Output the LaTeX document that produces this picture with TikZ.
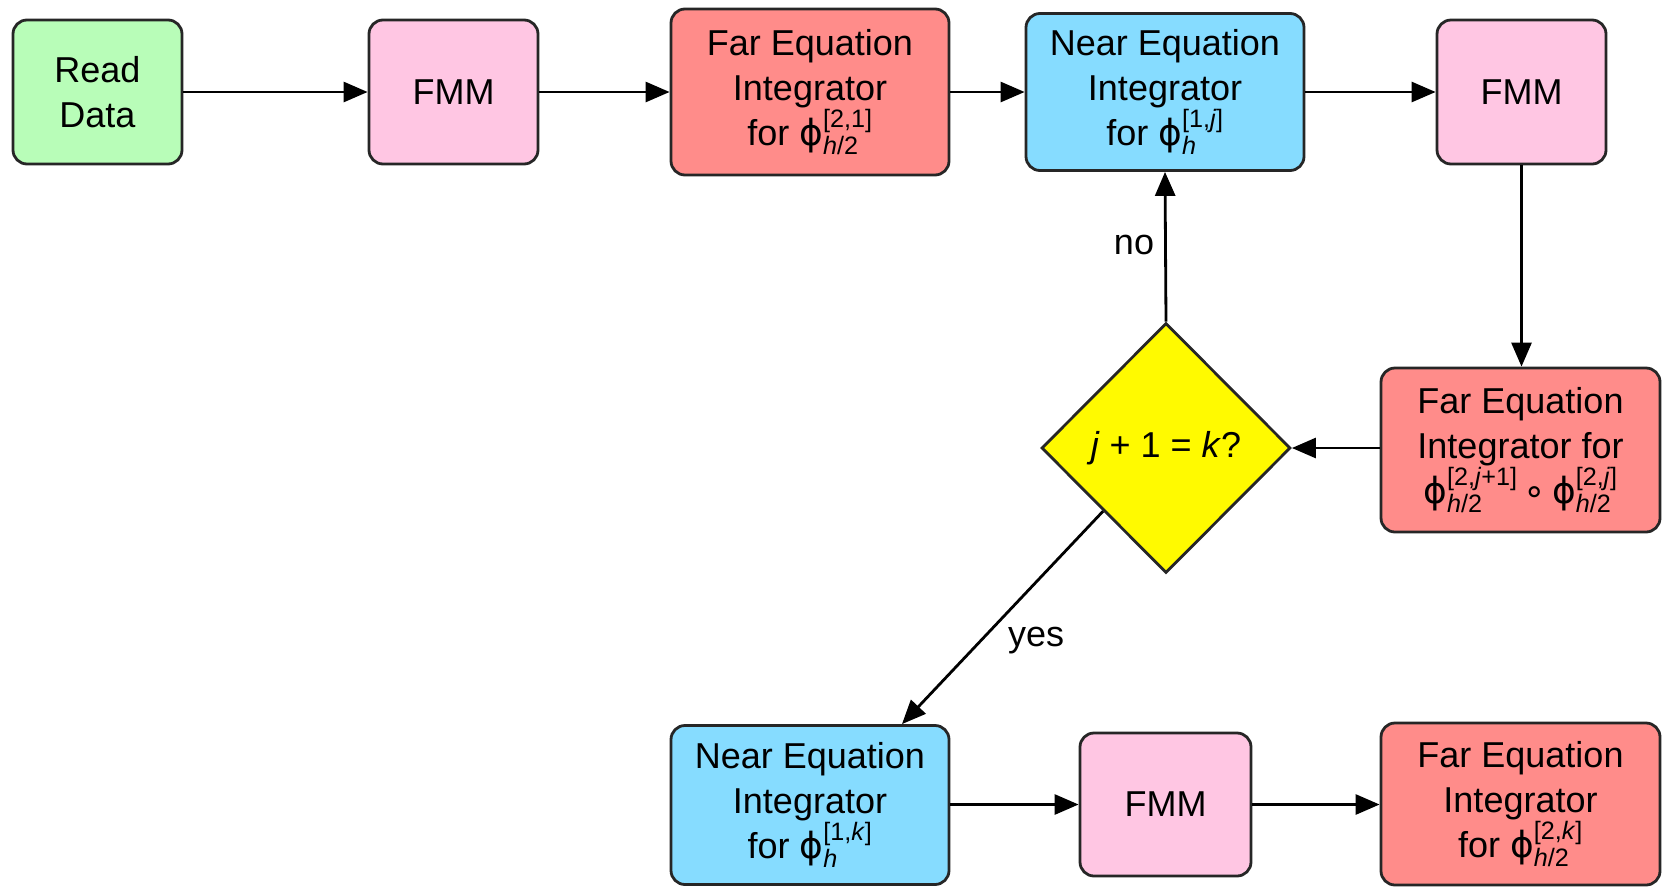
\documentclass[tikz,border=0pt]{standalone}
\usepackage{fontspec}
\setmainfont{Liberation Sans}
\newfontfamily\djv{DejaVu Sans}
\usepackage{amsmath}
\usetikzlibrary{shapes.geometric,arrows.meta,calc}
\definecolor{cgreen}{HTML}{B8FDB8}
\definecolor{cpink}{HTML}{FFC6E3}
\definecolor{cred}{HTML}{FF8C8A}
\definecolor{cblue}{HTML}{86DCFF}
\definecolor{cyellow}{HTML}{FFFA00}
\newcommand{\phiss}[2]{\(\text{\djv ϕ}^{\text{#1}}_{\text{#2}}\)}
\begin{document}
\begin{tikzpicture}[x=1pt,y=-1pt,
  box/.style={draw=black!85, line width=2.8pt, rounded corners=14pt, align=center,
    inner sep=0pt, font=\fontsize{36}{45}\selectfont},
  smallbox/.style={box, minimum width=169pt, minimum height=144pt},
  widebox/.style={box, minimum width=278pt, minimum height=160pt},
  arr/.style={-{Triangle[length=24pt,width=20pt]}, line width=2.8pt},
  lab/.style={font=\fontsize{36}{44}\selectfont, inner sep=0pt}]
\useasboundingbox (0,0) rectangle (1662,887);
\node[smallbox, fill=cgreen] (read) at (97.5,92) {Read\\Data};
\node[smallbox, fill=cpink] (fmm1) at (453.5,92) {FMM};
\node[widebox, fill=cred, minimum height=166pt] (far1) at (810,92) {Far Equation\\Integrator\\for \phiss{[2,1]}{\textit{h}/2}};
\node[widebox, fill=cblue, minimum height=157pt] (near1) at (1165,92) {Near Equation\\Integrator\\for \phiss{[1,\textit{j}]}{\textit{h}}};
\node[smallbox, fill=cpink] (fmm2) at (1521.5,92) {FMM};
\node[widebox, fill=cred, minimum width=279pt, minimum height=164pt] (far2) at (1520.5,450) {Far Equation\\Integrator for\\\phiss{[2,\textit{j}+1]}{\textit{h}/2}\,{\djv ∘}\,\phiss{[2,\textit{j}]}{\textit{h}/2}};
\node[diamond, draw=black!85, line width=2.8pt, fill=cyellow, minimum width=249pt, minimum height=250pt, inner sep=0pt, font=\fontsize{36}{44}\selectfont] (dec) at (1166,448) {\textit{j} + 1 = \textit{k}?};
\node[widebox, fill=cblue, minimum height=159pt] (near2) at (810,805) {Near Equation\\Integrator\\for \phiss{[1,\textit{k}]}{\textit{h}}};
\node[smallbox, fill=cpink, minimum width=171pt, minimum height=143pt] (fmm3) at (1165.5,804.5) {FMM};
\node[widebox, fill=cred, minimum width=279pt, minimum height=162pt] (far3) at (1520.5,804) {Far Equation\\Integrator\\for \phiss{[2,\textit{k}]}{\textit{h}/2}};
\draw[arr] (read) -- (fmm1);
\draw[arr] (fmm1) -- (far1);
\draw[arr] (far1) -- (near1);
\draw[arr] (near1) -- (fmm2);
\draw[arr] (fmm2.south) -- (fmm2.south |- far2.north);
\draw[arr] (far2.west |- dec.east) -- (dec.east);
\draw[arr] (dec.north) -- (near1.south);
\coordinate (n2t) at ($(near2.north)!0.655!(near2.north east)$);
\draw[arr] (dec.south west) -- (n2t);
\draw[arr] (near2.east |- fmm3) -- (fmm3);
\draw[arr] (fmm3) -- (far3.west |- fmm3);
\node[lab] (no) at (1134,245) {no};
\node[lab] (yes) at (1036,641) {yes};
\end{tikzpicture}
\end{document}
